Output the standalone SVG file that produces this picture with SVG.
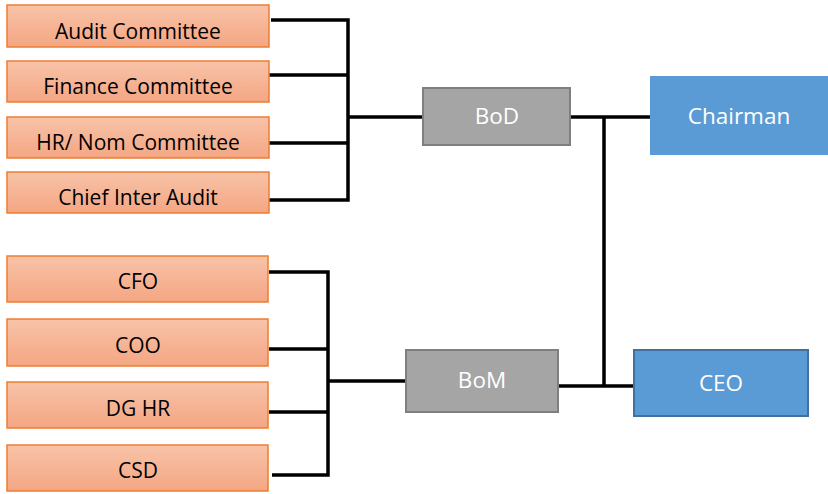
<svg xmlns="http://www.w3.org/2000/svg" width="828" height="494" viewBox="0 0 828 494">
<defs>
<linearGradient id="og" x1="0" y1="0" x2="0" y2="1">
<stop offset="0" stop-color="#f8c3a8"/>
<stop offset="1" stop-color="#f4a683"/>
</linearGradient>
</defs>
<style>
.o{fill:url(#og);stroke:#ed7d31;stroke-width:1.5}
.g{fill:#a5a5a5;stroke:#7f7f7f;stroke-width:2}
.b{fill:#5b9bd5}
.bs{fill:#5b9bd5;stroke:#41719c;stroke-width:2}
.t{font-family:"Open Sans","Liberation Sans",sans-serif;font-size:21px;text-anchor:middle;fill:#000}
.w{font-family:"Open Sans","Liberation Sans",sans-serif;font-size:22.5px;text-anchor:middle;fill:#fff}
.c{fill:none;stroke:#000;stroke-width:3.5}
</style>
<g id="connectors">
<path class="c" d="M271 20H348V200H269M269 75H348M269 143H348M348 117H423"/>
<path class="c" d="M269 272H328V475H272M269 349H328M269 412H328M328 381H406"/>
<path class="c" d="M570 117H650M604 117V386M558 386H634"/>
</g>
<g id="audit"><rect class="o" x="7" y="5" width="262" height="42"/><text class="t" x="138" y="39">Audit Committee</text></g>
<g id="finance"><rect class="o" x="7" y="61" width="262" height="41"/><text class="t" x="138" y="94">Finance Committee</text></g>
<g id="hrnom"><rect class="o" x="7" y="117" width="262" height="41"/><text class="t" x="138" y="150">HR/ Nom Committee</text></g>
<g id="cia"><rect class="o" x="7" y="172" width="262" height="41"/><text class="t" x="138" y="205">Chief Inter Audit</text></g>
<g id="cfo"><rect class="o" x="7" y="256" width="261" height="46"/><text class="t" x="138" y="289">CFO</text></g>
<g id="coo"><rect class="o" x="7" y="319" width="261" height="47"/><text class="t" x="138" y="353">COO</text></g>
<g id="dghr"><rect class="o" x="7" y="382" width="261" height="46"/><text class="t" x="138" y="416">DG HR</text></g>
<g id="csd"><rect class="o" x="7" y="445" width="261" height="46"/><text class="t" x="138" y="478">CSD</text></g>
<g id="bod"><rect class="g" x="423" y="88" width="147" height="57"/><text class="w" x="497" y="124">BoD</text></g>
<g id="bom"><rect class="g" x="406" y="350" width="152" height="62"/><text class="w" x="482" y="388">BoM</text></g>
<g id="chairman"><rect class="b" x="650" y="76" width="178" height="79"/><text class="w" x="739" y="124">Chairman</text></g>
<g id="ceo"><rect class="bs" x="634" y="350" width="174" height="66"/><text class="w" x="721" y="391">CEO</text></g>
</svg>
